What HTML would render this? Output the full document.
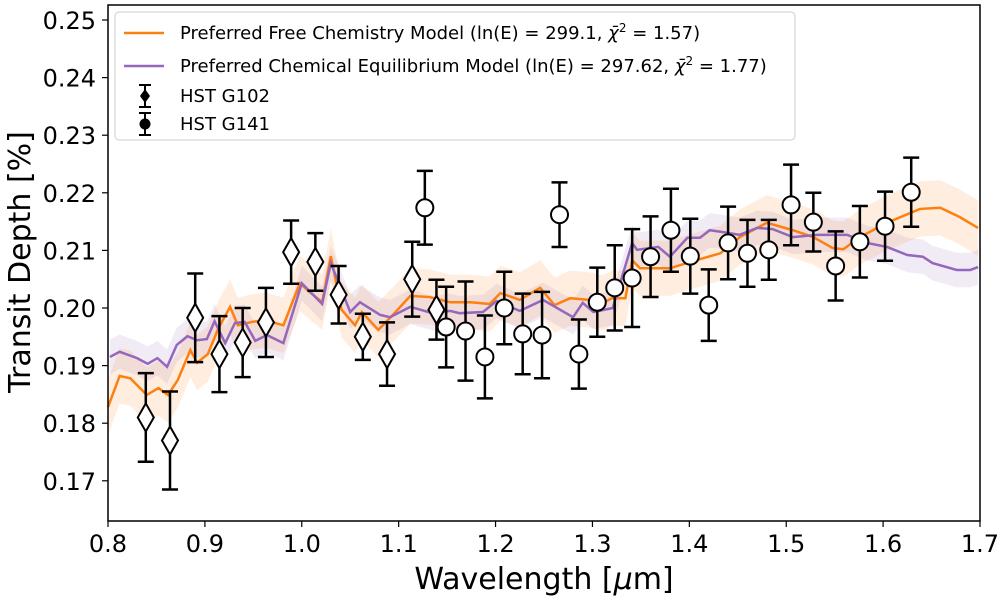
<!DOCTYPE html>
<html><head><meta charset="utf-8"><style>
body{margin:0;background:#fff;}
svg{display:block;font-family:"DejaVu Sans","Liberation Sans",sans-serif;}
</style></head><body>
<svg id="c" width="1000" height="599"></svg>
<script>
const g102Wl=[0.839,0.864,0.89,0.915,0.939,0.963,0.989,1.014,1.038,1.063,1.088,1.114,1.139];
const g102Val=[0.181,0.177,0.1983,0.192,0.194,0.1975,0.2097,0.208,0.2023,0.195,0.192,0.205,0.1997];
const g102Err=[0.0077,0.0085,0.0077,0.0066,0.006,0.006,0.0055,0.005,0.005,0.004,0.0055,0.0065,0.0052];
const g141Wl=[1.127,1.149,1.169,1.189,1.209,1.228,1.248,1.266,1.286,1.305,1.323,1.341,1.36,1.381,1.401,1.42,1.44,1.46,1.482,1.505,1.528,1.551,1.576,1.602,1.629];
const g141Val=[0.2174,0.1967,0.196,0.1915,0.2,0.1955,0.1953,0.2162,0.192,0.201,0.2035,0.2052,0.2089,0.2135,0.209,0.2005,0.2113,0.2095,0.2101,0.2179,0.2149,0.2073,0.2115,0.2142,0.2201];
const g141Err=[0.0064,0.007,0.0086,0.0072,0.0063,0.007,0.0075,0.0056,0.006,0.006,0.0074,0.0085,0.007,0.0072,0.0065,0.0062,0.0063,0.0058,0.0052,0.007,0.0051,0.006,0.0062,0.006,0.006];
const freeWl=[0.8,0.812,0.823,0.84,0.852,0.862,0.872,0.885,0.892,0.903,0.914,0.926,0.934,0.949,0.962,0.981,0.998,1.008,1.021,1.03,1.041,1.055,1.062,1.079,1.094,1.112,1.132,1.153,1.174,1.194,1.205,1.225,1.246,1.261,1.277,1.297,1.311,1.32,1.334,1.341,1.349,1.38,1.401,1.432,1.452,1.48,1.507,1.528,1.548,1.559,1.576,1.604,1.638,1.659,1.679,1.698];
const freeVal=[0.1828,0.1882,0.1878,0.1849,0.1861,0.1849,0.1875,0.1927,0.1905,0.192,0.1965,0.2002,0.197,0.1976,0.1979,0.197,0.2043,0.2028,0.201,0.209,0.1997,0.197,0.1993,0.1962,0.1988,0.2021,0.2019,0.201,0.201,0.2007,0.2026,0.2014,0.2035,0.2005,0.2017,0.2014,0.2009,0.2017,0.2017,0.2083,0.2069,0.2069,0.208,0.2095,0.2123,0.2148,0.2135,0.2123,0.2104,0.2102,0.2123,0.2148,0.2172,0.2174,0.2158,0.2139];
const eqWl=[0.802,0.812,0.83,0.841,0.851,0.861,0.871,0.882,0.892,0.902,0.91,0.921,0.931,0.941,0.952,0.964,0.981,1.0,1.021,1.03,1.05,1.06,1.081,1.091,1.112,1.135,1.153,1.163,1.187,1.201,1.225,1.249,1.28,1.29,1.301,1.321,1.341,1.346,1.359,1.368,1.38,1.398,1.411,1.421,1.434,1.452,1.47,1.486,1.507,1.532,1.563,1.583,1.604,1.625,1.641,1.651,1.676,1.69,1.698];
const eqVal=[0.1915,0.1924,0.1913,0.1903,0.1913,0.1898,0.1936,0.1951,0.1944,0.1946,0.1977,0.1939,0.1974,0.1976,0.1943,0.1953,0.1939,0.2043,0.2007,0.2078,0.1993,0.201,0.1988,0.1984,0.2002,0.1991,0.1995,0.1991,0.1993,0.2012,0.1995,0.2014,0.1984,0.2009,0.1993,0.2,0.2113,0.2101,0.2104,0.2106,0.2089,0.2122,0.2122,0.2135,0.2132,0.2127,0.2139,0.2137,0.2123,0.2127,0.2127,0.2113,0.2106,0.2092,0.2089,0.2078,0.2066,0.2066,0.2071];
const freeBand=0.0048, eqBand=0.003;
const xTicks=[0.8,0.9,1.0,1.1,1.2,1.3,1.4,1.5,1.6,1.7];
const yTicks=[0.17,0.18,0.19,0.20,0.21,0.22,0.23,0.24,0.25];

const svg=document.getElementById('c');const NS='http://www.w3.org/2000/svg';
const L=108,R=980,T=5,B=521;
const X=w=>L+(w-0.8)/0.9*(R-L);
const Y=v=>20+(0.25-v)*5760;
function el(t,a,p){const e=document.createElementNS(NS,t);for(const k in a)e.setAttribute(k,a[k]);(p||svg).appendChild(e);return e;}
function band(wl,val,h,fill,name){
  let d='M'+wl.map((w,i)=>X(w)+','+Y(val[i]+h)).join('L');
  for(let i=wl.length-1;i>=0;i--)d+='L'+X(wl[i])+','+Y(val[i]-h);
  const e=el('path',{d:d+'Z',fill:fill,'fill-opacity':0.13});
  
  
}
function line(wl,val,col,name){
  const e=el('path',{d:'M'+wl.map((w,i)=>X(w)+','+Y(val[i])).join('L'),fill:'none',stroke:col,'stroke-width':2.5});
  
  
}
band(eqWl,eqVal,eqBand,'#9467bd','equilibrium-band');
band(freeWl,freeVal,freeBand,'#ff7f0e','free-chemistry-band');
line(freeWl,freeVal,'#ff7f0e','free-chemistry-line');
line(eqWl,eqVal,'#9467bd','equilibrium-line');
function errbar(x,v,e,name){
  const g=el('g',{stroke:'#000','stroke-width':2.5});
  
  
  el('line',{x1:x,x2:x,y1:Y(v+e),y2:Y(v-e)},g);
  el('line',{x1:x-8,x2:x+8,y1:Y(v+e),y2:Y(v+e)},g);
  el('line',{x1:x-8,x2:x+8,y1:Y(v-e),y2:Y(v-e)},g);
}
g102Wl.forEach((w,i)=>{
  const x=X(w),y=Y(g102Val[i]);errbar(x,g102Val[i],g102Err[i],'g102-errorbar');
  const p=el('polygon',{points:`${x},${y-14} ${x+8},${y} ${x},${y+14} ${x-8},${y}`,fill:'#fff',stroke:'#000','stroke-width':2});
  
  
});
g141Wl.forEach((w,i)=>{
  const x=X(w),y=Y(g141Val[i]);errbar(x,g141Val[i],g141Err[i],'g141-errorbar');
  const c=el('circle',{cx:x,cy:y,r:8.5,fill:'#fff',stroke:'#000','stroke-width':2});
  
  
});
const fr=el('rect',{x:L,y:T,width:R-L,height:B-T,fill:'none',stroke:'#000','stroke-width':1.5});


xTicks.forEach(t=>{
  el('line',{x1:X(t),x2:X(t),y1:B,y2:B+6,stroke:'#000','stroke-width':1.2});
  const tx=el('text',{x:X(t),y:B+31,'font-size':24,'text-anchor':'middle'});tx.textContent=t.toFixed(1);
  
  
});
yTicks.forEach(t=>{
  el('line',{x1:L-6,x2:L,y1:Y(t),y2:Y(t),stroke:'#000','stroke-width':1.2});
  const tx=el('text',{x:L-12,y:Y(t)+9,'font-size':24,'text-anchor':'end'});tx.textContent=t.toFixed(2);
  
  
});
</script>
<svg style="position:absolute;left:0;top:0" width="1000" height="599">
<text x="544" y="589" font-size="30" text-anchor="middle" font-family="DejaVu Sans, sans-serif">Wavelength [<tspan font-style="italic">μ</tspan>m]</text>
<text transform="translate(30,262) rotate(-90)" font-size="30" text-anchor="middle" font-family="DejaVu Sans, sans-serif">Transit Depth [%]</text>
<g font-family="DejaVu Sans, sans-serif" font-size="18">
<rect x="115" y="12" width="680" height="128" rx="4" fill="#fff" fill-opacity="0.85" stroke="#ccc"/>
<line x1="124" x2="164" y1="33" y2="33" stroke="#ff7f0e" stroke-width="2.5"/>
<text x="180" y="39">Preferred Free Chemistry Model (ln(E) = 299.1, <tspan font-style="italic">χ̄</tspan><tspan font-size="12" dy="-7">2</tspan><tspan dy="7"> = 1.57)</tspan></text>
<line x1="124" x2="164" y1="66" y2="66" stroke="#9467bd" stroke-width="2.5"/>
<text x="180" y="72">Preferred Chemical Equilibrium Model (ln(E) = 297.62, <tspan font-style="italic">χ̄</tspan><tspan font-size="12" dy="-7">2</tspan><tspan dy="7"> = 1.77)</tspan></text>
<g stroke="#000" stroke-width="2"><line x1="145" x2="145" y1="85" y2="107"/><line x1="139" x2="151" y1="85" y2="85"/><line x1="139" x2="151" y1="107" y2="107"/>
<line x1="145" x2="145" y1="113" y2="135"/><line x1="139" x2="151" y1="113" y2="113"/><line x1="139" x2="151" y1="135" y2="135"/></g>
<polygon points="145,89 150,96 145,103 140,96" fill="#000"/>
<circle cx="145" cy="124" r="5.5" fill="#000"/>
<text x="180" y="102">HST G102</text>
<text x="180" y="130">HST G141</text>
</g>
</svg>
</body></html>
